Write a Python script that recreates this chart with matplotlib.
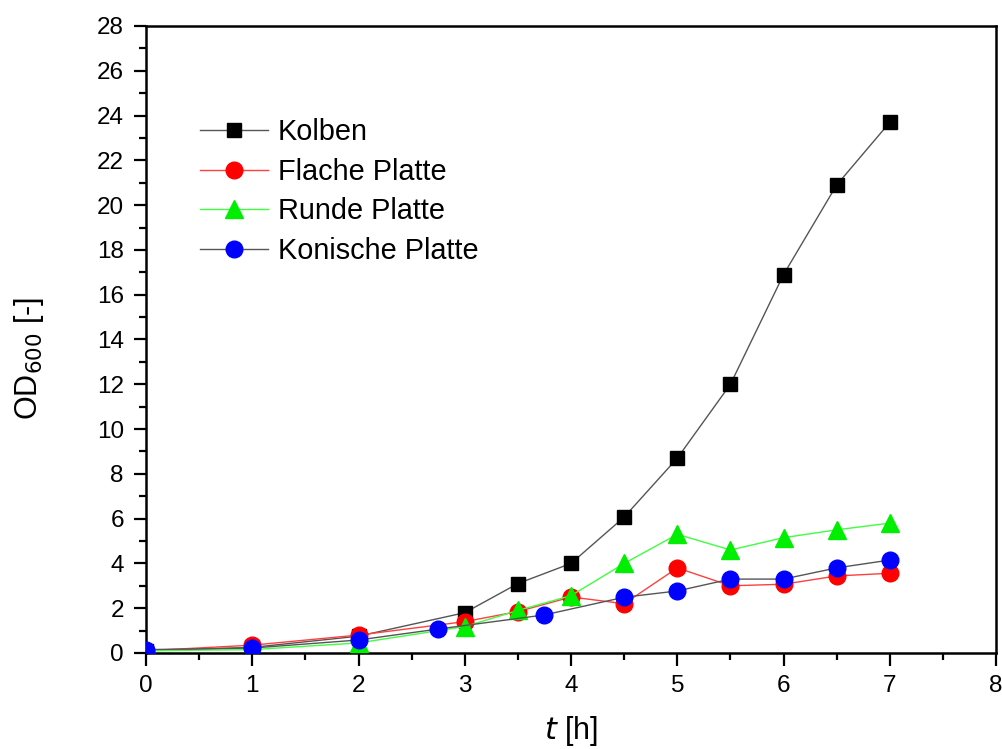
import matplotlib
matplotlib.use('Agg')
import matplotlib.pyplot as plt
from matplotlib.ticker import MultipleLocator

plt.rcParams['font.family'] = ['Liberation Sans', 'DejaVu Sans']

# data
x_main = [0, 1, 2, 3, 3.5, 4, 4.5, 5, 5.5, 6, 6.5, 7]
kolben = [0.1, 0.25, 0.75, 1.8, 3.1, 4.0, 6.07, 8.7, 12.0, 16.9, 20.9, 23.7]
flache = [0.1, 0.35, 0.8, 1.4, 1.85, 2.5, 2.2, 3.8, 3.0, 3.07, 3.44, 3.56]
runde = [0.1, 0.15, 0.45, 1.18, 1.9, 2.56, 4.0, 5.3, 4.6, 5.15, 5.5, 5.8]

x_konisch = [0, 1, 2, 2.75, 3.75, 4.5, 5, 5.5, 6, 6.5, 7]
konisch = [0.15, 0.22, 0.58, 1.07, 1.7, 2.49, 2.77, 3.3, 3.3, 3.8, 4.15]

labels = ["Kolben", "Flache Platte", "Runde Platte", "Konische Platte"]

fig = plt.figure(figsize=(10.03, 7.49), dpi=100)
ax = fig.add_axes([0.1456, 0.1282, 0.8475, 0.8371])

ax.plot(x_main, kolben, color='#555555', lw=1, marker='s', ms=10,
        mfc='black', mec='black', label=labels[0], zorder=3)
ax.plot(x_main, flache, color='#ff4040', lw=1, marker='o', ms=12,
        mfc='#ff0000', mec='#ff0000', label=labels[1], zorder=4)
ax.plot(x_main, runde, color='#40ff40', lw=1, marker='^', ms=13,
        mfc='#00ee00', mec='#00ee00', label=labels[2], zorder=5)
ax.plot(x_konisch, konisch, color='#555555', lw=1, marker='o', ms=12,
        mfc='#0000ff', mec='#0000ff', label=labels[3], zorder=6)

ax.set_xlim(0, 8)
ax.set_ylim(0, 28)
ax.xaxis.set_major_locator(MultipleLocator(1))
ax.xaxis.set_minor_locator(MultipleLocator(0.5))
ax.yaxis.set_major_locator(MultipleLocator(2))
ax.yaxis.set_minor_locator(MultipleLocator(1))
ax.tick_params(which='major', direction='out', length=9, width=1.6, labelsize=17.5, pad=7)
ax.tick_params(which='minor', direction='out', length=5, width=1.6)
for s in ax.spines.values():
    s.set_linewidth(1.8)

ax.set_ylabel('OD$_{600}$ [-]', fontsize=22)
ax.yaxis.set_label_coords(-0.118, 0.47)
ax.set_xlabel('$\\mathit{t}$ [h]', fontsize=22)
ax.xaxis.set_label_coords(0.5, -0.097)

ax.legend(loc='upper left', bbox_to_anchor=(0.0635, 0.853), frameon=False,
          fontsize=20.8, handlelength=2.35, handletextpad=0.35, labelspacing=0.4,
          borderaxespad=0, borderpad=0)

fig.savefig('out.png', dpi=100)
